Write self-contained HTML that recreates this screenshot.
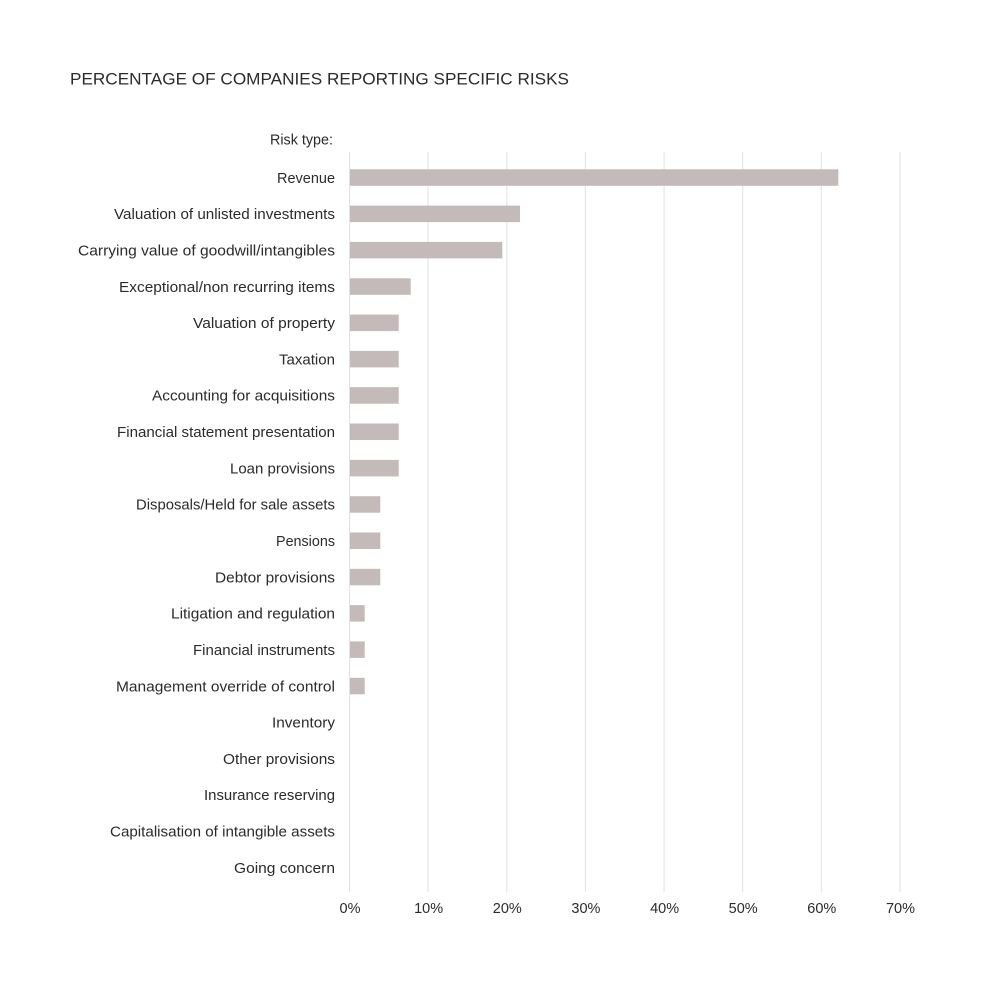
<!DOCTYPE html>
<html><head><meta charset="utf-8"><style>
html,body{margin:0;padding:0;background:#fff;}
svg{display:block;}
text{font-family:"Liberation Sans",sans-serif;fill:#2b2b2b;}
</style></head><body>
<svg width="1000" height="1000" viewBox="0 0 1000 1000" xmlns="http://www.w3.org/2000/svg">
<rect width="1000" height="1000" fill="#fff"/>
<text x="70" y="84.5" font-size="16.5" textLength="499" lengthAdjust="spacingAndGlyphs" fill="#222">PERCENTAGE OF COMPANIES REPORTING SPECIFIC RISKS</text>
<g stroke="#e2e2e2" stroke-width="1">
<line x1="349.5" y1="152" x2="349.5" y2="892"/>
<line x1="428.1" y1="152" x2="428.1" y2="892"/>
<line x1="506.8" y1="152" x2="506.8" y2="892"/>
<line x1="585.4" y1="152" x2="585.4" y2="892"/>
<line x1="664.1" y1="152" x2="664.1" y2="892"/>
<line x1="742.7" y1="152" x2="742.7" y2="892"/>
<line x1="821.3" y1="152" x2="821.3" y2="892"/>
<line x1="900" y1="152" x2="900" y2="892"/>
</g>
<g fill="#c4bab9">
<rect x="350" y="169.3" width="488.3" height="16.5"/>
<rect x="350" y="205.6" width="170" height="16.5"/>
<rect x="350" y="241.9" width="152.3" height="16.5"/>
<rect x="350" y="278.3" width="60.7" height="16.5"/>
<rect x="350" y="314.6" width="48.7" height="16.5"/>
<rect x="350" y="350.9" width="48.7" height="16.5"/>
<rect x="350" y="387.2" width="48.7" height="16.5"/>
<rect x="350" y="423.5" width="48.7" height="16.5"/>
<rect x="350" y="459.9" width="48.7" height="16.5"/>
<rect x="350" y="496.2" width="30.3" height="16.5"/>
<rect x="350" y="532.5" width="30.3" height="16.5"/>
<rect x="350" y="568.8" width="30.3" height="16.5"/>
<rect x="350" y="605.1" width="14.7" height="16.5"/>
<rect x="350" y="641.4" width="14.7" height="16.5"/>
<rect x="350" y="677.8" width="14.7" height="16.5"/>
</g>
<g font-size="14.5" text-anchor="end">
<text x="333" y="144.3" textLength="63" lengthAdjust="spacingAndGlyphs">Risk type:</text>
<text x="335" y="182.8" textLength="58" lengthAdjust="spacingAndGlyphs">Revenue</text>
<text x="335" y="219.1" textLength="221" lengthAdjust="spacingAndGlyphs">Valuation of unlisted investments</text>
<text x="335" y="255.4" textLength="257" lengthAdjust="spacingAndGlyphs">Carrying value of goodwill/intangibles</text>
<text x="335" y="291.8" textLength="216" lengthAdjust="spacingAndGlyphs">Exceptional/non recurring items</text>
<text x="335" y="328.1" textLength="142" lengthAdjust="spacingAndGlyphs">Valuation of property</text>
<text x="335" y="364.4" textLength="56" lengthAdjust="spacingAndGlyphs">Taxation</text>
<text x="335" y="400.7" textLength="183" lengthAdjust="spacingAndGlyphs">Accounting for acquisitions</text>
<text x="335" y="437.0" textLength="218" lengthAdjust="spacingAndGlyphs">Financial statement presentation</text>
<text x="335" y="473.4" textLength="105" lengthAdjust="spacingAndGlyphs">Loan provisions</text>
<text x="335" y="509.7" textLength="199" lengthAdjust="spacingAndGlyphs">Disposals/Held for sale assets</text>
<text x="335" y="546.0" textLength="59" lengthAdjust="spacingAndGlyphs">Pensions</text>
<text x="335" y="582.3" textLength="120" lengthAdjust="spacingAndGlyphs">Debtor provisions</text>
<text x="335" y="618.6" textLength="164" lengthAdjust="spacingAndGlyphs">Litigation and regulation</text>
<text x="335" y="654.9" textLength="142" lengthAdjust="spacingAndGlyphs">Financial instruments</text>
<text x="335" y="691.3" textLength="219" lengthAdjust="spacingAndGlyphs">Management override of control</text>
<text x="335" y="727.6" textLength="63" lengthAdjust="spacingAndGlyphs">Inventory</text>
<text x="335" y="763.9" textLength="112" lengthAdjust="spacingAndGlyphs">Other provisions</text>
<text x="335" y="800.2" textLength="131" lengthAdjust="spacingAndGlyphs">Insurance reserving</text>
<text x="335" y="836.5" textLength="225" lengthAdjust="spacingAndGlyphs">Capitalisation of intangible assets</text>
<text x="335" y="872.9" textLength="101" lengthAdjust="spacingAndGlyphs">Going concern</text>
</g>
<g font-size="14.5" text-anchor="middle">
<text x="350" y="913">0%</text>
<text x="428.6" y="913">10%</text>
<text x="507.3" y="913">20%</text>
<text x="585.9" y="913">30%</text>
<text x="664.6" y="913">40%</text>
<text x="743.2" y="913">50%</text>
<text x="821.8" y="913">60%</text>
<text x="900.5" y="913">70%</text>
</g>
</svg>
</body></html>
